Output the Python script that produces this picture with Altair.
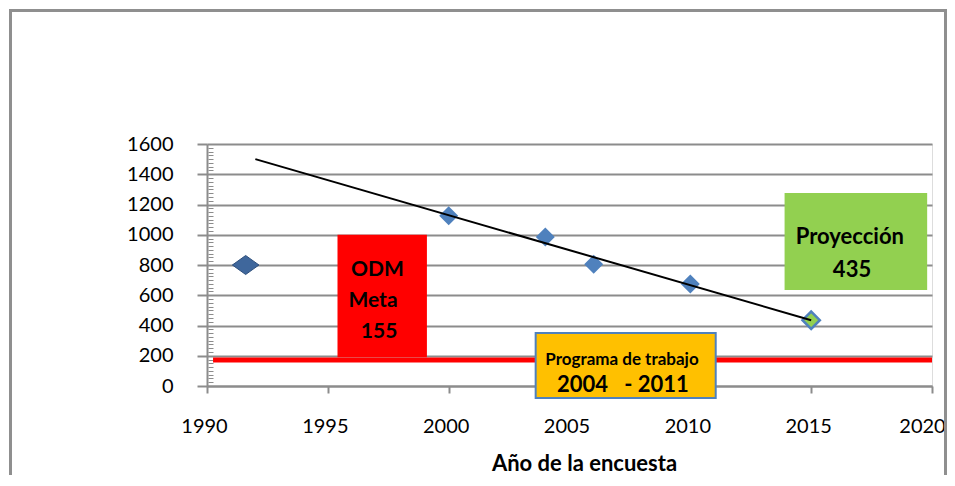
import altair as alt
import pandas as pd

# ---- data ----
survey_years = [1991.6, 2000, 2004, 2006, 2010]
survey_values = [800, 1125, 985, 805, 675]
projection_year = [2015]
projection_value = [435]
trend_years = [1992, 2015]
trend_values = [1500, 435]
meta_years = [1990.25, 2020]
meta_values = [172, 172]

# annotation boxes (data units)
odm_box = {"x": [1995.4], "x2": [1999.1], "y": [190], "y2": [1000]}
prog_box = {"x": [2003.6], "x2": [2011.05], "y": [-79], "y2": [350]}
proj_box = {"x": [2013.9], "x2": [2019.8], "y": [635], "y2": [1276]}

odm_text = ["ODM", "Meta", "155"]
odm_tx = [1997.05, 1996.87, 1997.12]
odm_ty = [727, 522, 317]
prog_text = ["Programa de trabajo", "2004\u00a0\u00a0\u00a0- 2011"]
prog_tx = [2007.17, 2007.21]
prog_ty = [139, -40]
prog_size = [17, 22]
proj_text = ["Proyección", "435"]
proj_tx = [2016.6, 2016.69]
proj_ty = [939, 721]

x_ticks = [1990, 1995, 2000, 2005, 2010, 2015, 2020]
y_ticks = [0, 200, 400, 600, 800, 1000, 1200, 1400, 1600]
y_minor = list(range(25, 1600, 25))

GRAY = "#8c8c8c"
FONT = "Lato"

xs = alt.Scale(domain=[1990, 2020], nice=False, zero=False)
ys = alt.Scale(domain=[0, 1600], nice=False)

x_axis = alt.Axis(values=x_ticks, format="d", grid=False, domainColor=GRAY, domainWidth=2,
                  tickColor=GRAY, tickWidth=2, tickSize=7, labelPadding=23, labelFlush=False,
                  labelOffset={"condition": {"test": "datum.value == 2020", "value": -10}, "value": -3},
                  labelFont=FONT, labelFontSize=20, labelColor="black",
                  title="Año de la encuesta", titleFont=FONT, titleFontSize=22, titleFontWeight="bold",
                  titleColor="black", titleX=377, titleY=84, titleBaseline="alphabetic", titleAlign="center")
y_axis = alt.Axis(values=y_ticks, format="d", grid=True, gridColor=GRAY, gridWidth=2,
                  domainColor=GRAY, domainWidth=2, tickColor=GRAY, tickWidth=2, tickSize=10,
                  labelPadding=24, labelFont=FONT, labelFontSize=20, labelColor="black", title=None)
y_minor_axis = alt.Axis(orient="left", values=y_minor, labels=False, domain=False, grid=False,
                        tickColor=GRAY, tickWidth=1, tickSize=5, offset=-6, title=None)

one = pd.DataFrame({"a": [0]})

frame = alt.Chart(one).mark_rect(filled=False, stroke="#8f8f8f", strokeWidth=3).encode(
    x=alt.value(-196.5), x2=alt.value(738.5), y=alt.value(-133.5), y2=alt.value(420))

surv = pd.DataFrame({"year": survey_years, "value": survey_values})

axes_main = alt.Chart(surv).mark_point(opacity=0).encode(
    x=alt.X("year:Q", scale=xs, axis=x_axis),
    y=alt.Y("value:Q", scale=ys, axis=y_axis))
axes_minor = alt.Chart(surv).mark_point(opacity=0).encode(
    x=alt.X("year:Q", scale=xs, axis=None),
    y=alt.Y("value:Q", scale=ys, axis=y_minor_axis))

def box(d, fill, **kw):
    return alt.Chart(pd.DataFrame(d)).mark_rect(fill=fill, **kw).encode(
        x=alt.X("x:Q", scale=xs, axis=None), x2="x2:Q",
        y=alt.Y("y:Q", scale=ys, axis=None), y2="y2:Q")

odm = box(odm_box, "#ff0000")
prog = box(prog_box, "#ffc000", stroke="#4f81bd", strokeWidth=2)
proj = box(proj_box, "#92d050")

meta = alt.Chart(pd.DataFrame({"year": meta_years, "value": meta_values})).mark_line(
    color="#ff0000", strokeWidth=5).encode(
    x=alt.X("year:Q", scale=xs, axis=None), y=alt.Y("value:Q", scale=ys, axis=None))

first = alt.Chart(surv.iloc[:1]).mark_point(
    shape="M-1.4,0L0,-1L1.4,0L0,1Z", size=361, filled=True, fill="#3f679c",
    stroke="#2e4f7c", strokeWidth=1, opacity=1).encode(
    x=alt.X("year:Q", scale=xs, axis=None), y=alt.Y("value:Q", scale=ys, axis=None))
others = alt.Chart(surv.iloc[1:]).mark_point(
    shape="diamond", size=361, filled=True, fill="#4f81bd", opacity=1).encode(
    x=alt.X("year:Q", scale=xs, axis=None), y=alt.Y("value:Q", scale=ys, axis=None))
projp = alt.Chart(pd.DataFrame({"year": projection_year, "value": projection_value})).mark_point(
    shape="diamond", size=300, filled=True, fill="#92d050", stroke="#4f81bd", strokeWidth=2.5,
    opacity=1).encode(
    x=alt.X("year:Q", scale=xs, axis=None), y=alt.Y("value:Q", scale=ys, axis=None))

trend = alt.Chart(pd.DataFrame({"year": trend_years, "value": trend_values})).mark_line(
    color="black", strokeWidth=2).encode(
    x=alt.X("year:Q", scale=xs, axis=None), y=alt.Y("value:Q", scale=ys, axis=None))

def texts(t, tx, ty, size):
    df = pd.DataFrame({"t": t, "x": tx, "y": ty, "s": size})
    return alt.Chart(df).mark_text(font=FONT, fontWeight="bold", color="black",
                                   align="center", baseline="alphabetic").encode(
        x=alt.X("x:Q", scale=xs, axis=None), y=alt.Y("y:Q", scale=ys, axis=None),
        text="t:N", size=alt.Size("s:Q", scale=None, legend=None))

t_odm = texts(odm_text, odm_tx, odm_ty, [21, 21, 21])
t_prog = texts(prog_text, prog_tx, prog_ty, prog_size)
t_proj = texts(proj_text, proj_tx, proj_ty, [22, 22])

chart = alt.layer(
    frame, axes_main, axes_minor, odm, meta, prog, proj, first, others, projp, trend,
    t_odm, t_prog, t_proj
).resolve_axis(x="independent", y="independent").resolve_scale(x="shared", y="shared").properties(
    width=725, height=242,
    autosize=alt.AutoSizeParams(type="none"),
    padding={"left": 199, "top": 136, "right": 15, "bottom": 89},
).configure_view(stroke=None).configure(background="white")

chart.save("out.html", embed_options={"renderer": "svg", "actions": False})
